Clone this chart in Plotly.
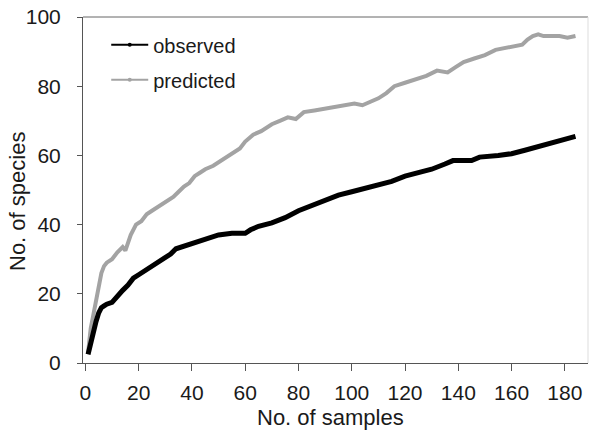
import plotly.graph_objects as go

obs_x = [1, 2, 3, 4, 5, 6, 7, 8, 10, 12, 14, 16, 18, 20, 22, 24, 26, 28, 30, 32, 34, 36, 38, 40,
         42, 44, 46, 48, 50, 55, 60, 62, 65, 70, 75, 80, 85, 90, 95, 100, 105, 110, 115, 120,
         125, 130, 135, 138, 145, 148, 155, 160, 165, 170, 175, 180, 184]
obs_y = [2.5, 6, 10, 12, 14.5, 16, 16.5, 17, 17.5, 19.5, 21, 22.5, 24.5, 25.5, 26.5, 27.5, 28.5,
         29.5, 30.5, 31.5, 33, 33.5, 34, 34.5, 35, 35.5, 36, 36.5, 37, 37.5, 37.5, 38.5, 39.5,
         40.5, 42, 44, 45.5, 47, 48.5, 49.5, 50.5, 51.5, 52.5, 54, 55, 56, 57.5, 58.5, 58.5,
         59.5, 60, 60.5, 61.5, 62.5, 63.5, 64.5, 65.5]

pred_x = [1, 2, 3, 4, 5, 6, 7, 8, 10, 12, 14, 15, 17, 19, 21, 23, 25, 27, 29, 31, 33, 35, 37, 39,
          41, 43, 45, 48, 50, 53, 56, 58, 60, 63, 66, 70, 73, 76, 79, 82, 86, 90, 94, 98, 101,
          104, 107, 110, 113, 116, 120, 124, 128, 132, 136, 139, 142, 146, 150, 154, 158, 162,
          164, 166, 168, 170, 172, 175, 178, 181, 184]
pred_y = [3, 10, 14, 18, 22, 26, 28, 29, 30, 32, 33.5, 32.5, 37, 40, 41, 43, 44, 45, 46, 47, 48,
          49.5, 51, 52, 54, 55, 56, 57, 58, 59.5, 61, 62, 64, 66, 67, 69, 70, 71, 70.5, 72.5, 73,
          73.5, 74, 74.5, 75, 74.5, 75.5, 76.5, 78, 80, 81, 82, 83, 84.5, 84, 85.5, 87, 88, 89,
          90.5, 91, 91.5, 92, 93.5, 94.5, 95, 94.5, 94.5, 94.5, 94, 94.5]

x_ticks = [0, 20, 40, 60, 80, 100, 120, 140, 160, 180]
y_ticks = [0, 20, 40, 60, 80, 100]
x_title = "No. of samples"
y_title = "No. of species"

OBS_COLOR = "#000000"
PRED_COLOR = "#a3a3a3"
TEXT_COLOR = "#1a1a1a"
FONT = "Liberation Sans, Arial, sans-serif"

fig = go.Figure()
fig.add_trace(go.Scatter(x=pred_x, y=pred_y, mode="lines", line=dict(color=PRED_COLOR, width=4),
                         showlegend=False, hoverinfo="skip"))
fig.add_trace(go.Scatter(x=obs_x, y=obs_y, mode="lines", line=dict(color=OBS_COLOR, width=5),
                         showlegend=False, hoverinfo="skip"))
# legend entries (thin line + dot as in the reference)
fig.add_trace(go.Scatter(x=[None], y=[None], mode="lines+markers", name="observed",
                         legendgroup="a", line=dict(color=OBS_COLOR, width=2),
                         marker=dict(color=OBS_COLOR, size=4)))
fig.add_trace(go.Scatter(x=[None], y=[None], mode="lines+markers", name="predicted",
                         legendgroup="b", line=dict(color=PRED_COLOR, width=2),
                         marker=dict(color=PRED_COLOR, size=4)))

axis_common = dict(showgrid=False, zeroline=False, showline=True, linecolor="#555555",
                   linewidth=1, mirror=False, ticks="outside", tickcolor="#555555",
                   tickwidth=1, tickfont=dict(family=FONT, size=21, color=TEXT_COLOR))

fig.update_xaxes(range=[-0.9, 188.7], tickvals=x_ticks, ticklen=7, ticklabelstandoff=4,
                 **axis_common)
fig.update_yaxes(range=[0, 100], tickvals=y_ticks, ticklen=5, ticklabelstandoff=12,
                 **axis_common)

fig.update_layout(
    width=589, height=441,
    margin=dict(l=83, r=1, t=17, b=78),
    plot_bgcolor="white", paper_bgcolor="white",
    font=dict(family=FONT),
    showlegend=True,
    legend=dict(x=0.046, y=0.976, xanchor="left", yanchor="top", bgcolor="rgba(0,0,0,0)",
                font=dict(family=FONT, size=20, color=TEXT_COLOR), itemwidth=37,
                traceorder="grouped", tracegroupgap=6),
    shapes=[
        dict(type="line", xref="paper", yref="paper", x0=0, x1=1, y0=1, y1=1,
             line=dict(color="#666666", width=1)),
        dict(type="line", xref="paper", yref="paper", x0=1, x1=1, y0=0, y1=1,
             line=dict(color="#dddddd", width=1)),
    ],
    annotations=[
        dict(text=x_title, xref="paper", yref="paper", x=(330 - 83) / 505, y=-(417 - 363) / 346,
             xanchor="center", yanchor="middle", showarrow=False,
             font=dict(family=FONT, size=22, color=TEXT_COLOR)),
        dict(text=y_title, xref="paper", yref="paper", x=-(83 - 17) / 505, y=(363 - 202) / 346,
             xanchor="center", yanchor="middle", showarrow=False, textangle=-90,
             font=dict(family=FONT, size=22, color=TEXT_COLOR)),
    ],
)

fig.write_html("out.html")
